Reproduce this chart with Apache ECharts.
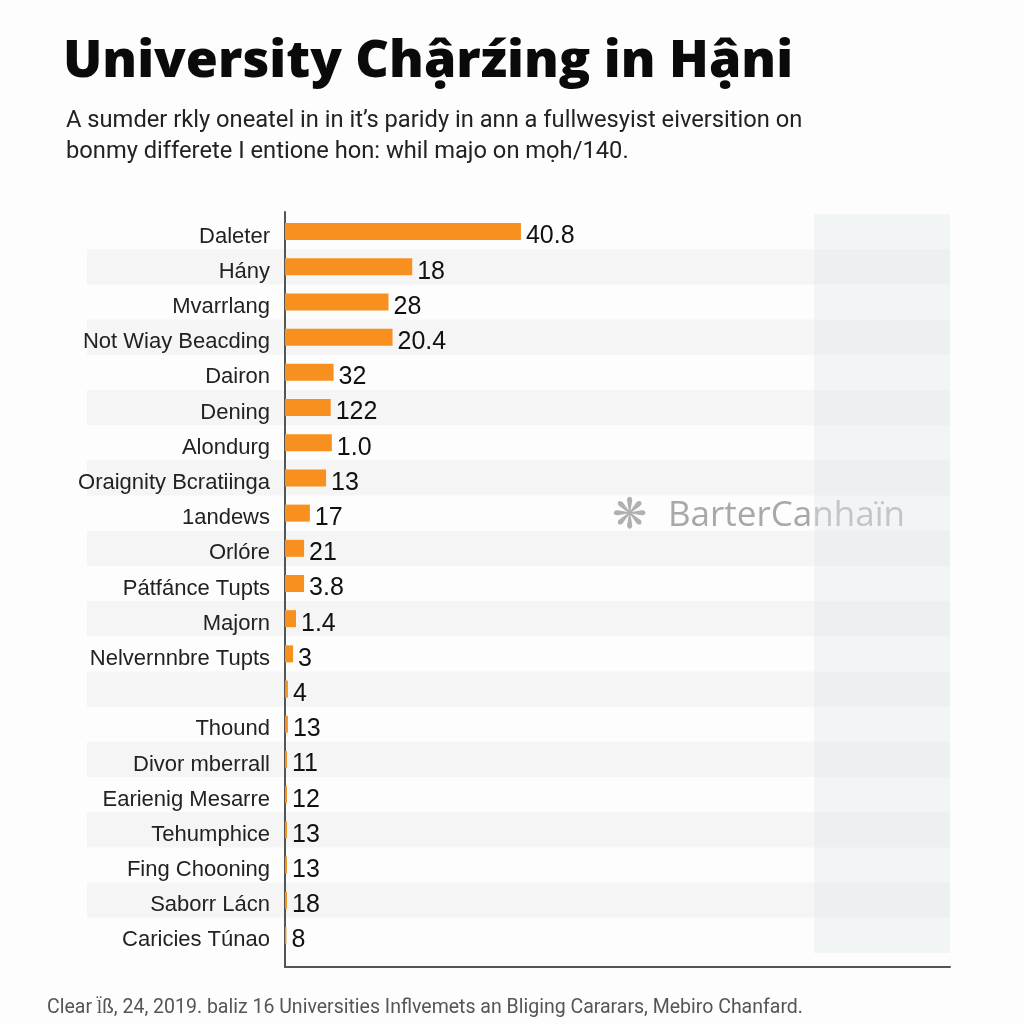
<!DOCTYPE html>
<html>
<head>
<meta charset="utf-8">
<script src="https://cdn.jsdelivr.net/npm/echarts@6/dist/echarts.min.js"></script>
<style>
html,body{margin:0;padding:0;background:#fdfdfd;}
#c{width:1024px;height:1024px;}
</style>
</head>
<body>
<div id="c"></div>
<script>
var categories = ["Daleter","Hány","Mvarrlang","Not Wiay Beacding","Dairon","Dening","Alondurg","Oraignity Bcratiinga","1andews","Orlóre","Pátfánce Tupts","Majorn","Nelvernnbre Tupts","","Thound","Divor mberrall","Earienig Mesarre","Tehumphice","Fing Chooning","Saborr Lácn","Caricies Túnao"];
var values = [40.8, 22.0, 17.9, 18.6, 8.4, 7.9, 8.1, 7.1, 4.3, 3.3, 3.3, 1.9, 1.4, 0.5, 0.5, 0.35, 0.35, 0.35, 0.35, 0.35, 0.25];
var valueLabels = ["40.8","18","28","20.4","32","122","1.0","13","17","21","3.8","1.4","3","4","13","11","12","13","13","18","8"];
var titleText = "University Chậrźing in Hậni";
var subtitleText = "A sumder rkly oneatel in in it’s paridy in ann a fullwesyist eiversition on\nbonmy differete I entione hon: whil majo on mọh/140.";
var footerText = "Clear l̈ß, 24, 2019. baliz 16 Universities Inflvemets an Bliging Cararars, Mebiro Chanfard.";
var watermarkText = "BarterCanhaїn";
var axisMax = 115;
var panelRange = [91.5, 115];

var chart = echarts.init(document.getElementById('c'));
chart.setOption({
  backgroundColor: '#fdfdfd',
  animation: false,
  title: [
    {text: titleText, left: 58, top: 31, textStyle: {fontFamily: 'Open Sans', fontWeight: 800, fontSize: 52, color: '#0a0a0a'}},
    {text: subtitleText, left: 61, top: 101, textStyle: {fontFamily: 'Roboto', fontWeight: 'normal', fontSize: 23.7, lineHeight: 31, color: '#222'}},
    {text: footerText, left: 42, top: 993, textStyle: {fontFamily: 'Roboto', fontWeight: 'normal', fontSize: 19.5, color: '#555'}}
  ],
  grid: [
    {left: 285, right: 74, top: 214, bottom: 71},
    {left: 87, right: 74, top: 214, bottom: 71},
    {left: 285, right: 74, top: 212, bottom: 57}
  ],
  xAxis: [
    {type: 'value', gridIndex: 0, min: 0, max: axisMax, show: true, axisLine: {show: false}, axisTick: {show: false}, axisLabel: {show: false}, splitLine: {show: false}},
    {type: 'value', gridIndex: 1, min: 0, max: 1, show: false},
    {type: 'value', gridIndex: 2, min: 0, max: 1, axisLine: {show: true, lineStyle: {color: '#555', width: 2}}, axisTick: {show: false}, axisLabel: {show: false}, splitLine: {show: false}}
  ],
  yAxis: [
    {type: 'category', gridIndex: 0, data: categories, inverse: true, axisLine: {show: false}, axisTick: {show: false},
     axisLabel: {margin: 15, fontFamily: 'Liberation Sans', fontSize: 22, color: '#222', verticalAlign: 'top', lineHeight: 10}},
    {type: 'category', gridIndex: 1, data: categories, inverse: true, axisLine: {show: false}, axisTick: {show: false}, axisLabel: {show: false},
     splitArea: {show: true, areaStyle: {color: ['rgba(255,255,255,0)', 'rgba(238,238,238,0.55)']}}},
    {type: 'value', gridIndex: 2, min: 0, max: 1, axisLine: {show: true, lineStyle: {color: '#555', width: 2}}, axisTick: {show: false}, axisLabel: {show: false}, splitLine: {show: false}}
  ],
  graphic: [
    {type: 'text', left: 612, top: 496, style: {text: '❋', fontSize: 42, fill: '#b0b0b0', fontFamily: 'DejaVu Sans'}},
    {type: 'text', left: 668, top: 499, style: {text: watermarkText, fontSize: 35, fill: '#a8a8a8', fontFamily: 'Open Sans'}}
  ],
  series: [{
    type: 'bar',
    xAxisIndex: 0, yAxisIndex: 0,
    data: values,
    barWidth: 17,
    itemStyle: {color: '#f7901e'},
    label: {show: true, position: 'right', distance: 5, offset: [0, 5], fontFamily: 'Liberation Sans', fontSize: 25, color: '#111',
      formatter: function(p){ return valueLabels[p.dataIndex]; }},
    markArea: {silent: true, itemStyle: {color: 'rgba(226,236,236,0.45)'},
      data: [[{xAxis: panelRange[0]}, {xAxis: panelRange[1]}]]}
  }]
});
</script>
</body>
</html>
